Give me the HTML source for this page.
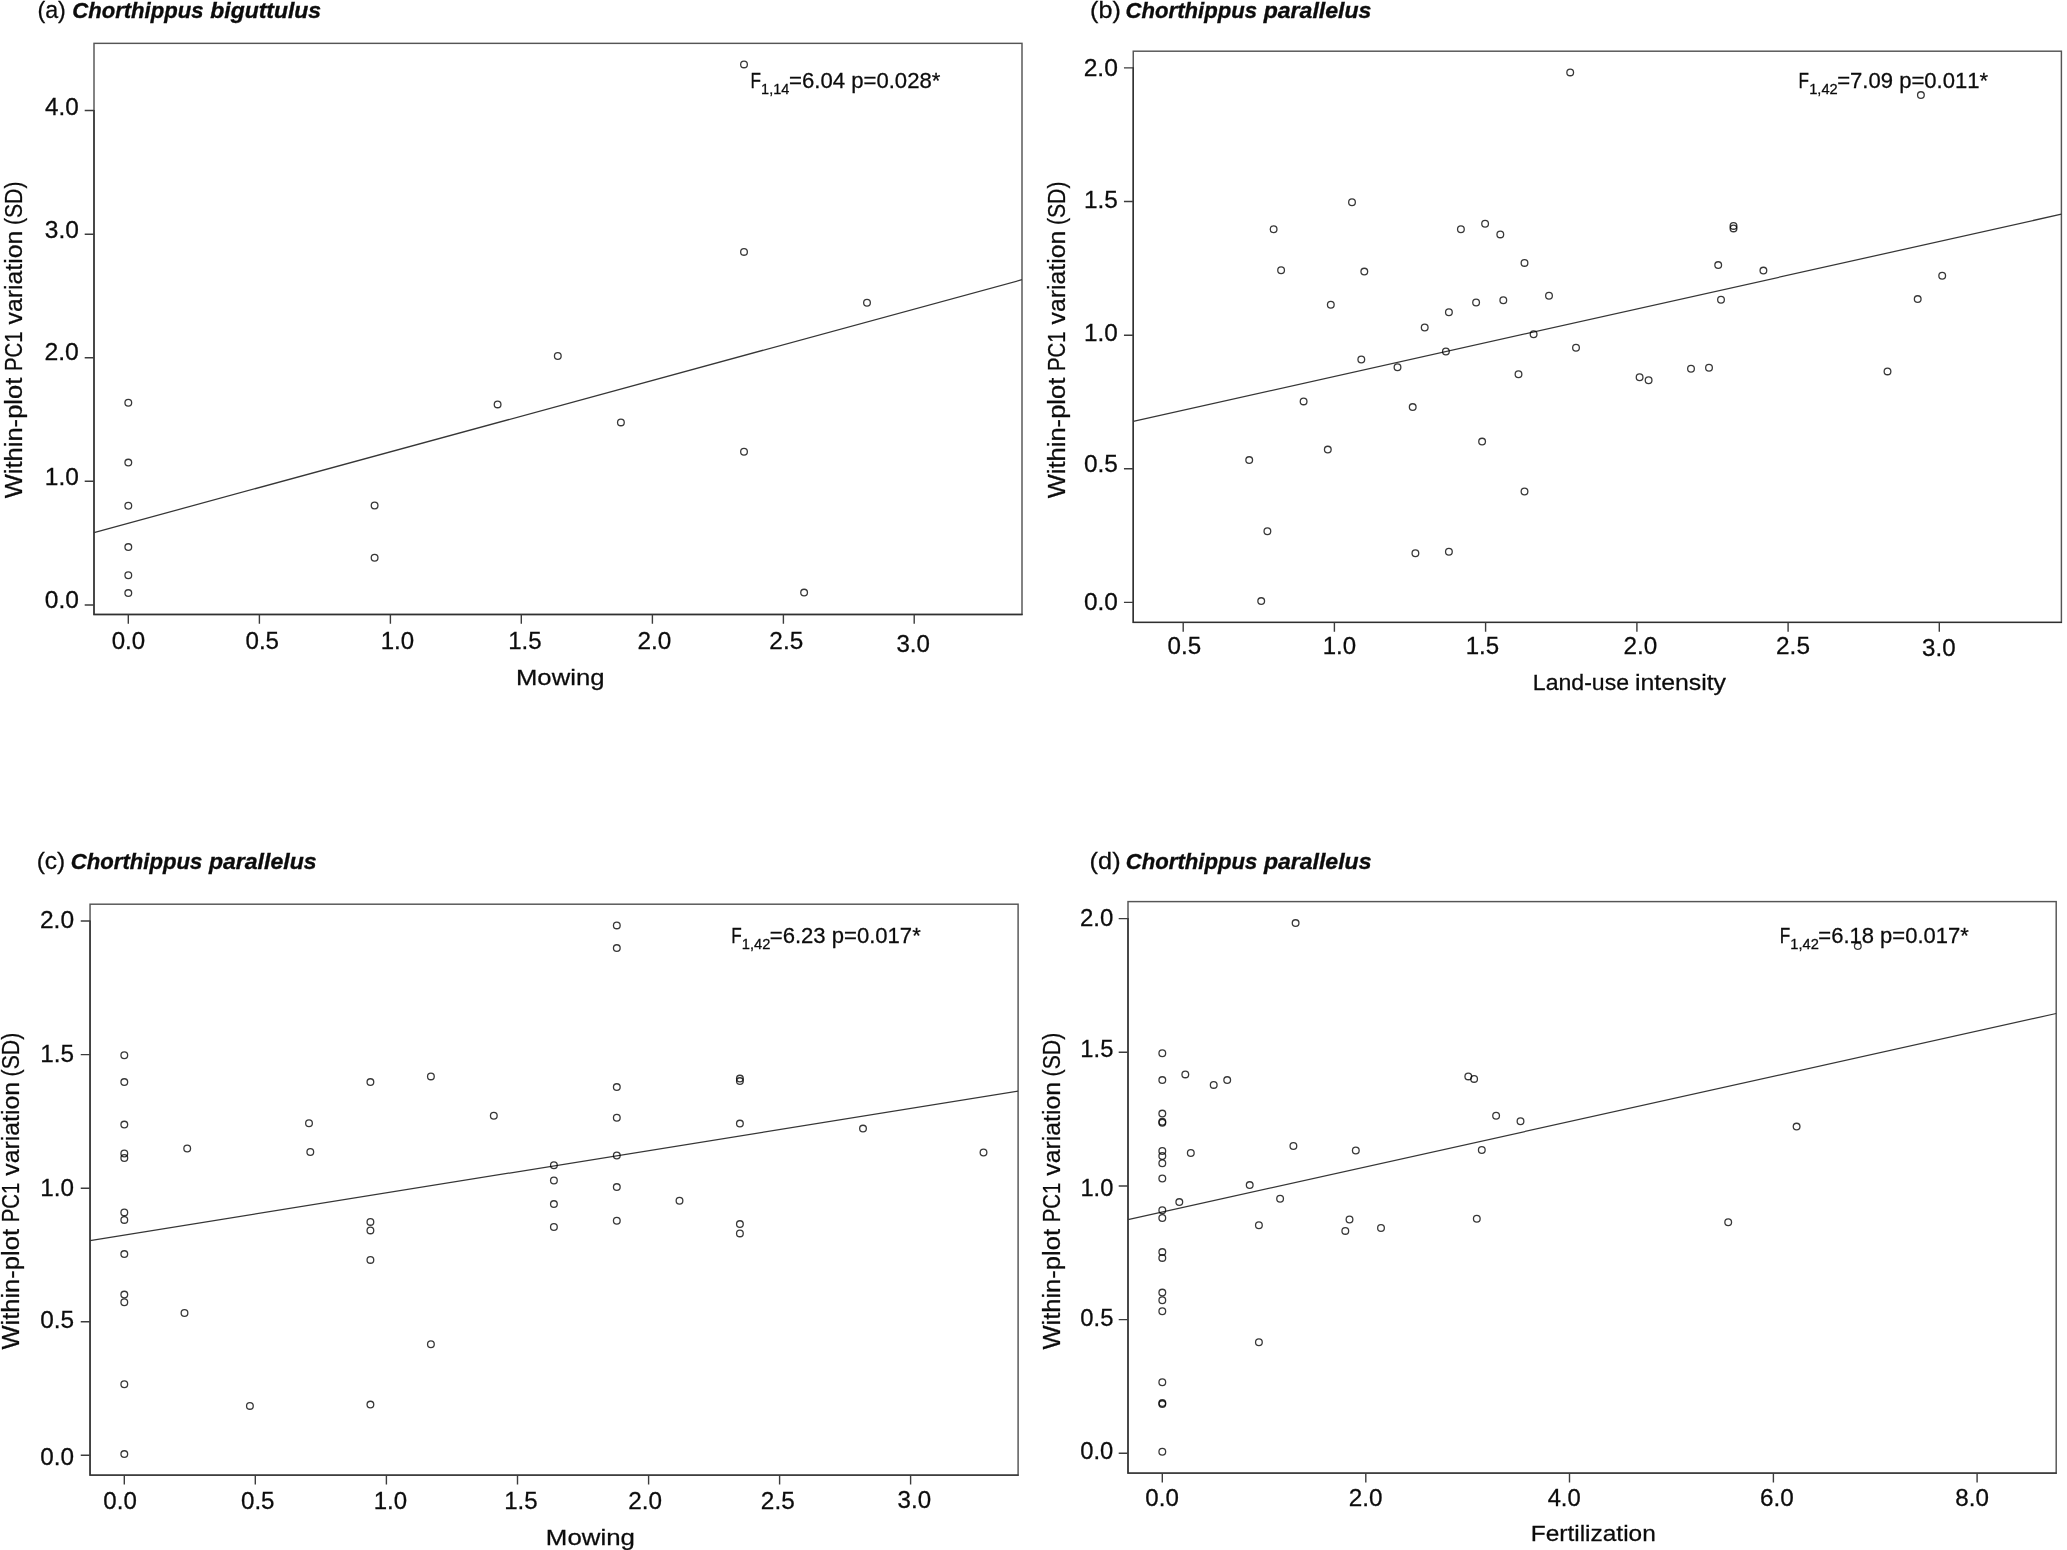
<!DOCTYPE html>
<html lang="en"><head><meta charset="utf-8"><title>Within-plot PC1 variation</title>
<style>
html,body{margin:0;padding:0;background:#fff;}
body{width:2067px;height:1550px;overflow:hidden;}
svg{display:block;will-change:transform;}
text{font-family:"Liberation Sans",sans-serif;font-kerning:none;fill:#0c0c0c;stroke:#0c0c0c;stroke-width:0.27px;}
.t{font-size:23.5px;}
.xl{font-size:22.9px;}
.yl{font-size:23.3px;}
.ti{font-size:23.7px;}
.tb{font-size:22.9px;font-weight:bold;font-style:italic;stroke:#0c0c0c;stroke-width:0.35px;}
.an{font-size:21.8px;}
.as{font-size:14.5px;}
.pt{fill:none;stroke:#000;stroke-opacity:0.78;stroke-width:1.3;}
.bx{fill:none;stroke:#555;stroke-width:1.45;}
.ax{fill:none;stroke:#303030;stroke-width:1.4;stroke-linejoin:miter;}
.tk{stroke:#3c3c3c;stroke-width:1.4;}
.ln{stroke:#363636;stroke-width:1.25;}
</style></head><body>
<svg width="2067" height="1550" viewBox="0 0 2067 1550">
<rect x="0" y="0" width="2067" height="1550" fill="#ffffff"/>
<g id="panel-a">
<text class="ti" x="37.46" y="18.2" textLength="28.38" lengthAdjust="spacingAndGlyphs">(a)</text>
<text class="tb" x="72.22" y="18.2" textLength="131.23" lengthAdjust="spacingAndGlyphs">Chorthippus</text>
<text class="tb" x="210.31" y="18.2" textLength="110.78" lengthAdjust="spacingAndGlyphs">biguttulus</text>
<rect class="bx" x="94" y="43.35" width="928" height="571.1"/>
<path class="ax" d="M94 109.9V614.45H1022.6"/>
<line class="ln" x1="94" y1="532.6" x2="1022" y2="279.7"/>
<path class="tk" fill="none" d="M84.7 605H94M84.7 481.3H94M84.7 357.7H94M84.7 234.2H94M84.7 110.5H94M128.3 614.45V623.85M259.4 614.45V623.85M390.4 614.45V623.85M521.3 614.45V623.85M652.4 614.45V623.85M783.4 614.45V623.85M914.2 614.45V623.85"/>
<text class="t" x="44.74" y="608.4" textLength="34.12" lengthAdjust="spacingAndGlyphs">0.0</text>
<text class="t" x="44.84" y="484.6" textLength="34.02" lengthAdjust="spacingAndGlyphs">1.0</text>
<text class="t" x="44.46" y="359.9" textLength="34.41" lengthAdjust="spacingAndGlyphs">2.0</text>
<text class="t" x="44.77" y="237.6" textLength="34.09" lengthAdjust="spacingAndGlyphs">3.0</text>
<text class="t" x="45.14" y="115.3" textLength="33.7" lengthAdjust="spacingAndGlyphs">4.0</text>
<text class="t" x="111.66" y="648.7" textLength="33.48" lengthAdjust="spacingAndGlyphs">0.0</text>
<text class="t" x="245.46" y="648.7" textLength="33.56" lengthAdjust="spacingAndGlyphs">0.5</text>
<text class="t" x="380.77" y="648.7" textLength="33.37" lengthAdjust="spacingAndGlyphs">1.0</text>
<text class="t" x="508.17" y="648.7" textLength="33.44" lengthAdjust="spacingAndGlyphs">1.5</text>
<text class="t" x="637.48" y="648.7" textLength="33.77" lengthAdjust="spacingAndGlyphs">2.0</text>
<text class="t" x="769.38" y="648.7" textLength="33.85" lengthAdjust="spacingAndGlyphs">2.5</text>
<text class="t" x="896.48" y="651.7" textLength="33.46" lengthAdjust="spacingAndGlyphs">3.0</text>
<text class="xl" x="515.99" y="684.9" textLength="88.46" lengthAdjust="spacingAndGlyphs">Mowing</text>
<g transform="translate(22.4 498.2) rotate(-90)">
<text class="yl" x="-0.11" y="0" textLength="120.6" lengthAdjust="spacingAndGlyphs">Within-plot</text>
<text class="yl" x="127.13" y="0" textLength="39.67" lengthAdjust="spacingAndGlyphs">PC1</text>
<text class="yl" x="173.72" y="0" textLength="93.8" lengthAdjust="spacingAndGlyphs">variation</text>
<text class="yl" x="273.08" y="0" textLength="43.63" lengthAdjust="spacingAndGlyphs">(SD)</text>
</g>
<text class="an" x="750.49" y="87.6" textLength="10.5" lengthAdjust="spacingAndGlyphs">F</text>
<text class="as" x="761.1" y="93.6" textLength="28.23" lengthAdjust="spacingAndGlyphs">1,14</text>
<text class="an" x="789.12" y="87.6" textLength="151.23" lengthAdjust="spacingAndGlyphs">=6.04 p=0.028*</text>
<circle class="pt" cx="128.3" cy="402.7" r="3.35"/>
<circle class="pt" cx="128.3" cy="462.6" r="3.35"/>
<circle class="pt" cx="128.3" cy="505.8" r="3.35"/>
<circle class="pt" cx="128.3" cy="547.1" r="3.35"/>
<circle class="pt" cx="128.3" cy="575.2" r="3.35"/>
<circle class="pt" cx="128.3" cy="593.1" r="3.35"/>
<circle class="pt" cx="374.6" cy="505.5" r="3.35"/>
<circle class="pt" cx="374.6" cy="557.7" r="3.35"/>
<circle class="pt" cx="497.6" cy="404.4" r="3.35"/>
<circle class="pt" cx="557.8" cy="356" r="3.35"/>
<circle class="pt" cx="620.9" cy="422.4" r="3.35"/>
<circle class="pt" cx="744" cy="64.4" r="3.35"/>
<circle class="pt" cx="744" cy="251.9" r="3.35"/>
<circle class="pt" cx="744" cy="451.8" r="3.35"/>
<circle class="pt" cx="804.1" cy="592.6" r="3.35"/>
<circle class="pt" cx="867" cy="302.8" r="3.35"/>
</g>
<g id="panel-b">
<text class="ti" x="1090.04" y="18.4" textLength="30.72" lengthAdjust="spacingAndGlyphs">(b)</text>
<text class="tb" x="1125.62" y="18.4" textLength="131.44" lengthAdjust="spacingAndGlyphs">Chorthippus</text>
<text class="tb" x="1263.71" y="18.4" textLength="107.68" lengthAdjust="spacingAndGlyphs">parallelus</text>
<rect class="bx" x="1133.25" y="51.2" width="928.15" height="571.2"/>
<path class="ax" d="M1133.25 67.3V622.4H2062"/>
<line class="ln" x1="1133.25" y1="421.4" x2="2061.4" y2="214.2"/>
<path class="tk" fill="none" d="M1123.95 602.4H1133.25M1123.95 468.8H1133.25M1123.95 335.2H1133.25M1123.95 201.5H1133.25M1123.95 67.9H1133.25M1183.2 622.4V631.8M1334.4 622.4V631.8M1485.6 622.4V631.8M1636.9 622.4V631.8M1788.1 622.4V631.8M1939.3 622.4V631.8"/>
<text class="t" x="1083.95" y="609.5" textLength="33.91" lengthAdjust="spacingAndGlyphs">0.0</text>
<text class="t" x="1083.95" y="472.2" textLength="33.98" lengthAdjust="spacingAndGlyphs">0.5</text>
<text class="t" x="1084.05" y="341.4" textLength="33.8" lengthAdjust="spacingAndGlyphs">1.0</text>
<text class="t" x="1084.04" y="208.1" textLength="33.88" lengthAdjust="spacingAndGlyphs">1.5</text>
<text class="t" x="1083.66" y="75.8" textLength="34.2" lengthAdjust="spacingAndGlyphs">2.0</text>
<text class="t" x="1167.56" y="654.4" textLength="33.56" lengthAdjust="spacingAndGlyphs">0.5</text>
<text class="t" x="1322.77" y="654.4" textLength="33.37" lengthAdjust="spacingAndGlyphs">1.0</text>
<text class="t" x="1465.67" y="654.4" textLength="33.44" lengthAdjust="spacingAndGlyphs">1.5</text>
<text class="t" x="1623.48" y="654.4" textLength="33.77" lengthAdjust="spacingAndGlyphs">2.0</text>
<text class="t" x="1776.08" y="654.4" textLength="33.85" lengthAdjust="spacingAndGlyphs">2.5</text>
<text class="t" x="1922.08" y="656.2" textLength="33.46" lengthAdjust="spacingAndGlyphs">3.0</text>
<text class="xl" x="1532.81" y="690" textLength="96.22" lengthAdjust="spacingAndGlyphs">Land-use</text>
<text class="xl" x="1634.94" y="690" textLength="91.11" lengthAdjust="spacingAndGlyphs">intensity</text>
<g transform="translate(1064.5 498.2) rotate(-90)">
<text class="yl" x="-0.11" y="0" textLength="120.6" lengthAdjust="spacingAndGlyphs">Within-plot</text>
<text class="yl" x="127.13" y="0" textLength="39.67" lengthAdjust="spacingAndGlyphs">PC1</text>
<text class="yl" x="173.72" y="0" textLength="93.8" lengthAdjust="spacingAndGlyphs">variation</text>
<text class="yl" x="273.08" y="0" textLength="43.63" lengthAdjust="spacingAndGlyphs">(SD)</text>
</g>
<text class="an" x="1798.59" y="87.6" textLength="10.5" lengthAdjust="spacingAndGlyphs">F</text>
<text class="as" x="1809.18" y="93.6" textLength="28.56" lengthAdjust="spacingAndGlyphs">1,42</text>
<text class="an" x="1837.22" y="87.6" textLength="150.92" lengthAdjust="spacingAndGlyphs">=7.09 p=0.011*</text>
<circle class="pt" cx="1273.6" cy="229.2" r="3.35"/>
<circle class="pt" cx="1281.1" cy="270.3" r="3.35"/>
<circle class="pt" cx="1352" cy="202.2" r="3.35"/>
<circle class="pt" cx="1364.3" cy="271.6" r="3.35"/>
<circle class="pt" cx="1330.8" cy="304.8" r="3.35"/>
<circle class="pt" cx="1460.9" cy="229.2" r="3.35"/>
<circle class="pt" cx="1485.1" cy="223.7" r="3.35"/>
<circle class="pt" cx="1500.3" cy="234.4" r="3.35"/>
<circle class="pt" cx="1524.5" cy="262.9" r="3.35"/>
<circle class="pt" cx="1476.1" cy="302.5" r="3.35"/>
<circle class="pt" cx="1503.3" cy="300.3" r="3.35"/>
<circle class="pt" cx="1549" cy="295.8" r="3.35"/>
<circle class="pt" cx="1448.9" cy="312.3" r="3.35"/>
<circle class="pt" cx="1424.7" cy="327.5" r="3.35"/>
<circle class="pt" cx="1533.6" cy="334.2" r="3.35"/>
<circle class="pt" cx="1445.9" cy="351.5" r="3.35"/>
<circle class="pt" cx="1361.3" cy="359.5" r="3.35"/>
<circle class="pt" cx="1397.5" cy="367.2" r="3.35"/>
<circle class="pt" cx="1518.5" cy="374.3" r="3.35"/>
<circle class="pt" cx="1570.2" cy="72.4" r="3.35"/>
<circle class="pt" cx="1920.9" cy="95.1" r="3.35"/>
<circle class="pt" cx="1733.5" cy="225.9" r="3.35"/>
<circle class="pt" cx="1733.5" cy="228.4" r="3.35"/>
<circle class="pt" cx="1718.2" cy="265.1" r="3.35"/>
<circle class="pt" cx="1763.4" cy="270.6" r="3.35"/>
<circle class="pt" cx="1942.2" cy="275.8" r="3.35"/>
<circle class="pt" cx="1721" cy="299.8" r="3.35"/>
<circle class="pt" cx="1917.7" cy="299.1" r="3.35"/>
<circle class="pt" cx="1576" cy="347.7" r="3.35"/>
<circle class="pt" cx="1639.6" cy="377.2" r="3.35"/>
<circle class="pt" cx="1648.6" cy="380.2" r="3.35"/>
<circle class="pt" cx="1691" cy="368.7" r="3.35"/>
<circle class="pt" cx="1709" cy="367.7" r="3.35"/>
<circle class="pt" cx="1887.5" cy="371.4" r="3.35"/>
<circle class="pt" cx="1303.6" cy="401.4" r="3.35"/>
<circle class="pt" cx="1412.7" cy="407.1" r="3.35"/>
<circle class="pt" cx="1482.1" cy="441.6" r="3.35"/>
<circle class="pt" cx="1327.8" cy="449.6" r="3.35"/>
<circle class="pt" cx="1249.2" cy="460.1" r="3.35"/>
<circle class="pt" cx="1524.5" cy="491.5" r="3.35"/>
<circle class="pt" cx="1267.4" cy="531.2" r="3.35"/>
<circle class="pt" cx="1415.4" cy="553.2" r="3.35"/>
<circle class="pt" cx="1448.9" cy="551.7" r="3.35"/>
<circle class="pt" cx="1261.2" cy="601.1" r="3.35"/>
</g>
<g id="panel-c">
<text class="ti" x="36.68" y="869.3" textLength="28.54" lengthAdjust="spacingAndGlyphs">(c)</text>
<text class="tb" x="70.82" y="869.3" textLength="131.44" lengthAdjust="spacingAndGlyphs">Chorthippus</text>
<text class="tb" x="208.91" y="869.3" textLength="107.68" lengthAdjust="spacingAndGlyphs">parallelus</text>
<rect class="bx" x="90.05" y="904.2" width="928.05" height="570.95"/>
<path class="ax" d="M90.05 920.4V1475.15H1018.7"/>
<line class="ln" x1="90.05" y1="1240.6" x2="1018.1" y2="1091.1"/>
<path class="tk" fill="none" d="M80.75 1455.3H90.05M80.75 1321.7H90.05M80.75 1188.2H90.05M80.75 1054.6H90.05M80.75 921H90.05M124.3 1475.15V1484.55M255.3 1475.15V1484.55M386.4 1475.15V1484.55M517.5 1475.15V1484.55M648.6 1475.15V1484.55M779.6 1475.15V1484.55M910.6 1475.15V1484.55"/>
<text class="t" x="40.25" y="1464.9" textLength="33.8" lengthAdjust="spacingAndGlyphs">0.0</text>
<text class="t" x="40.25" y="1327.7" textLength="33.88" lengthAdjust="spacingAndGlyphs">0.5</text>
<text class="t" x="40.35" y="1195.9" textLength="33.69" lengthAdjust="spacingAndGlyphs">1.0</text>
<text class="t" x="40.35" y="1061.6" textLength="33.77" lengthAdjust="spacingAndGlyphs">1.5</text>
<text class="t" x="39.97" y="928.3" textLength="34.09" lengthAdjust="spacingAndGlyphs">2.0</text>
<text class="t" x="103.36" y="1509.1" textLength="33.48" lengthAdjust="spacingAndGlyphs">0.0</text>
<text class="t" x="240.96" y="1509.1" textLength="33.56" lengthAdjust="spacingAndGlyphs">0.5</text>
<text class="t" x="373.67" y="1509.1" textLength="33.37" lengthAdjust="spacingAndGlyphs">1.0</text>
<text class="t" x="504.17" y="1509.1" textLength="33.44" lengthAdjust="spacingAndGlyphs">1.5</text>
<text class="t" x="628.18" y="1509.1" textLength="33.77" lengthAdjust="spacingAndGlyphs">2.0</text>
<text class="t" x="760.88" y="1509.1" textLength="33.85" lengthAdjust="spacingAndGlyphs">2.5</text>
<text class="t" x="897.58" y="1508.4" textLength="33.46" lengthAdjust="spacingAndGlyphs">3.0</text>
<text class="xl" x="545.88" y="1545.2" textLength="89.09" lengthAdjust="spacingAndGlyphs">Mowing</text>
<g transform="translate(18.7 1349.5) rotate(-90)">
<text class="yl" x="-0.11" y="0" textLength="120.6" lengthAdjust="spacingAndGlyphs">Within-plot</text>
<text class="yl" x="127.13" y="0" textLength="39.67" lengthAdjust="spacingAndGlyphs">PC1</text>
<text class="yl" x="173.72" y="0" textLength="93.8" lengthAdjust="spacingAndGlyphs">variation</text>
<text class="yl" x="273.08" y="0" textLength="43.63" lengthAdjust="spacingAndGlyphs">(SD)</text>
</g>
<text class="an" x="731.19" y="942.5" textLength="10.5" lengthAdjust="spacingAndGlyphs">F</text>
<text class="as" x="741.78" y="948.5" textLength="28.56" lengthAdjust="spacingAndGlyphs">1,42</text>
<text class="an" x="769.82" y="942.5" textLength="150.92" lengthAdjust="spacingAndGlyphs">=6.23 p=0.017*</text>
<circle class="pt" cx="124.3" cy="1055.2" r="3.35"/>
<circle class="pt" cx="124.3" cy="1082.1" r="3.35"/>
<circle class="pt" cx="124.3" cy="1124.6" r="3.35"/>
<circle class="pt" cx="124.3" cy="1153.5" r="3.35"/>
<circle class="pt" cx="124.3" cy="1158" r="3.35"/>
<circle class="pt" cx="124.3" cy="1212.4" r="3.35"/>
<circle class="pt" cx="124.3" cy="1219.9" r="3.35"/>
<circle class="pt" cx="124.3" cy="1254.1" r="3.35"/>
<circle class="pt" cx="124.3" cy="1294.6" r="3.35"/>
<circle class="pt" cx="124.3" cy="1302.3" r="3.35"/>
<circle class="pt" cx="124.3" cy="1384.2" r="3.35"/>
<circle class="pt" cx="124.3" cy="1454.1" r="3.35"/>
<circle class="pt" cx="187.2" cy="1148.5" r="3.35"/>
<circle class="pt" cx="184.5" cy="1313" r="3.35"/>
<circle class="pt" cx="249.9" cy="1405.9" r="3.35"/>
<circle class="pt" cx="309" cy="1123.3" r="3.35"/>
<circle class="pt" cx="310.3" cy="1152" r="3.35"/>
<circle class="pt" cx="370.4" cy="1082.1" r="3.35"/>
<circle class="pt" cx="370.4" cy="1221.9" r="3.35"/>
<circle class="pt" cx="370.4" cy="1230.4" r="3.35"/>
<circle class="pt" cx="370.4" cy="1259.9" r="3.35"/>
<circle class="pt" cx="370.4" cy="1404.6" r="3.35"/>
<circle class="pt" cx="430.9" cy="1076.4" r="3.35"/>
<circle class="pt" cx="430.9" cy="1344.2" r="3.35"/>
<circle class="pt" cx="493.8" cy="1115.8" r="3.35"/>
<circle class="pt" cx="553.9" cy="1165.2" r="3.35"/>
<circle class="pt" cx="553.9" cy="1180.5" r="3.35"/>
<circle class="pt" cx="553.9" cy="1204.1" r="3.35"/>
<circle class="pt" cx="553.9" cy="1227" r="3.35"/>
<circle class="pt" cx="616.8" cy="925.4" r="3.35"/>
<circle class="pt" cx="616.8" cy="948.1" r="3.35"/>
<circle class="pt" cx="616.8" cy="1087.1" r="3.35"/>
<circle class="pt" cx="616.8" cy="1117.8" r="3.35"/>
<circle class="pt" cx="616.8" cy="1155.5" r="3.35"/>
<circle class="pt" cx="616.8" cy="1187.1" r="3.35"/>
<circle class="pt" cx="616.8" cy="1220.8" r="3.35"/>
<circle class="pt" cx="679.5" cy="1200.7" r="3.35"/>
<circle class="pt" cx="739.9" cy="1078.6" r="3.35"/>
<circle class="pt" cx="739.9" cy="1081.1" r="3.35"/>
<circle class="pt" cx="739.9" cy="1123.6" r="3.35"/>
<circle class="pt" cx="739.9" cy="1224.1" r="3.35"/>
<circle class="pt" cx="739.9" cy="1233.4" r="3.35"/>
<circle class="pt" cx="863" cy="1128.6" r="3.35"/>
<circle class="pt" cx="983.5" cy="1152.5" r="3.35"/>
</g>
<g id="panel-d">
<text class="ti" x="1089.63" y="868.5" textLength="30.94" lengthAdjust="spacingAndGlyphs">(d)</text>
<text class="tb" x="1125.82" y="868.5" textLength="131.44" lengthAdjust="spacingAndGlyphs">Chorthippus</text>
<text class="tb" x="1263.91" y="868.5" textLength="107.58" lengthAdjust="spacingAndGlyphs">parallelus</text>
<rect class="bx" x="1128" y="901.6" width="928.2" height="571.5"/>
<path class="ax" d="M1128 918V1473.1H2056.8"/>
<line class="ln" x1="1128" y1="1219.7" x2="2056.2" y2="1013.5"/>
<path class="tk" fill="none" d="M1118.7 1453.2H1128M1118.7 1319.6H1128M1118.7 1186H1128M1118.7 1052.2H1128M1118.7 918.6H1128M1162.3 1473.1V1482.5M1365.8 1473.1V1482.5M1569.5 1473.1V1482.5M1773.4 1473.1V1482.5M1977.1 1473.1V1482.5"/>
<text class="t" x="1080.27" y="1459.2" textLength="33.06" lengthAdjust="spacingAndGlyphs">0.0</text>
<text class="t" x="1080.27" y="1325.7" textLength="33.13" lengthAdjust="spacingAndGlyphs">0.5</text>
<text class="t" x="1080.4" y="1196" textLength="32.93" lengthAdjust="spacingAndGlyphs">1.0</text>
<text class="t" x="1080.39" y="1057.1" textLength="33.01" lengthAdjust="spacingAndGlyphs">1.5</text>
<text class="t" x="1079.99" y="926" textLength="33.34" lengthAdjust="spacingAndGlyphs">2.0</text>
<text class="t" x="1145.36" y="1506" textLength="33.48" lengthAdjust="spacingAndGlyphs">0.0</text>
<text class="t" x="1348.78" y="1506" textLength="33.77" lengthAdjust="spacingAndGlyphs">2.0</text>
<text class="t" x="1547.65" y="1505.7" textLength="33.08" lengthAdjust="spacingAndGlyphs">4.0</text>
<text class="t" x="1759.97" y="1505.9" textLength="33.78" lengthAdjust="spacingAndGlyphs">6.0</text>
<text class="t" x="1955.35" y="1505.9" textLength="33.59" lengthAdjust="spacingAndGlyphs">8.0</text>
<text class="xl" x="1530.79" y="1541" textLength="124.99" lengthAdjust="spacingAndGlyphs">Fertilization</text>
<g transform="translate(1060 1349.5) rotate(-90)">
<text class="yl" x="-0.11" y="0" textLength="120.6" lengthAdjust="spacingAndGlyphs">Within-plot</text>
<text class="yl" x="127.13" y="0" textLength="39.67" lengthAdjust="spacingAndGlyphs">PC1</text>
<text class="yl" x="173.72" y="0" textLength="93.8" lengthAdjust="spacingAndGlyphs">variation</text>
<text class="yl" x="273.08" y="0" textLength="43.63" lengthAdjust="spacingAndGlyphs">(SD)</text>
</g>
<text class="an" x="1779.69" y="942.5" textLength="10.5" lengthAdjust="spacingAndGlyphs">F</text>
<text class="as" x="1790.28" y="948.5" textLength="28.56" lengthAdjust="spacingAndGlyphs">1,42</text>
<text class="an" x="1818.33" y="942.5" textLength="150.42" lengthAdjust="spacingAndGlyphs">=6.18 p=0.017*</text>
<circle class="pt" cx="1162.3" cy="1053.2" r="3.35"/>
<circle class="pt" cx="1162.3" cy="1080.1" r="3.35"/>
<circle class="pt" cx="1162.3" cy="1113.6" r="3.35"/>
<circle class="pt" cx="1162.3" cy="1121.8" r="3.35"/>
<circle class="pt" cx="1162.3" cy="1122.7" r="3.35"/>
<circle class="pt" cx="1162.3" cy="1151" r="3.35"/>
<circle class="pt" cx="1162.3" cy="1156" r="3.35"/>
<circle class="pt" cx="1162.3" cy="1163.3" r="3.35"/>
<circle class="pt" cx="1162.3" cy="1178.5" r="3.35"/>
<circle class="pt" cx="1162.3" cy="1210.2" r="3.35"/>
<circle class="pt" cx="1162.3" cy="1218" r="3.35"/>
<circle class="pt" cx="1162.3" cy="1252.1" r="3.35"/>
<circle class="pt" cx="1162.3" cy="1257.9" r="3.35"/>
<circle class="pt" cx="1162.3" cy="1292.6" r="3.35"/>
<circle class="pt" cx="1162.3" cy="1300.3" r="3.35"/>
<circle class="pt" cx="1162.3" cy="1311.3" r="3.35"/>
<circle class="pt" cx="1162.3" cy="1382.2" r="3.35"/>
<circle class="pt" cx="1162.3" cy="1403.1" r="3.35"/>
<circle class="pt" cx="1162.3" cy="1404.1" r="3.35"/>
<circle class="pt" cx="1162.3" cy="1451.8" r="3.35"/>
<circle class="pt" cx="1185.3" cy="1074.4" r="3.35"/>
<circle class="pt" cx="1213.7" cy="1084.9" r="3.35"/>
<circle class="pt" cx="1227.2" cy="1080.1" r="3.35"/>
<circle class="pt" cx="1190.8" cy="1153" r="3.35"/>
<circle class="pt" cx="1179.3" cy="1202.1" r="3.35"/>
<circle class="pt" cx="1295.6" cy="923.1" r="3.35"/>
<circle class="pt" cx="1293.4" cy="1146" r="3.35"/>
<circle class="pt" cx="1249.7" cy="1185.1" r="3.35"/>
<circle class="pt" cx="1280.1" cy="1198.8" r="3.35"/>
<circle class="pt" cx="1258.9" cy="1225.2" r="3.35"/>
<circle class="pt" cx="1258.9" cy="1342.2" r="3.35"/>
<circle class="pt" cx="1355.8" cy="1150.5" r="3.35"/>
<circle class="pt" cx="1349.5" cy="1219.5" r="3.35"/>
<circle class="pt" cx="1345.3" cy="1230.9" r="3.35"/>
<circle class="pt" cx="1381" cy="1228" r="3.35"/>
<circle class="pt" cx="1468.3" cy="1076.4" r="3.35"/>
<circle class="pt" cx="1474.1" cy="1078.9" r="3.35"/>
<circle class="pt" cx="1496.1" cy="1115.8" r="3.35"/>
<circle class="pt" cx="1520.5" cy="1121.3" r="3.35"/>
<circle class="pt" cx="1481.8" cy="1150" r="3.35"/>
<circle class="pt" cx="1476.8" cy="1218.7" r="3.35"/>
<circle class="pt" cx="1857.8" cy="946.1" r="3.35"/>
<circle class="pt" cx="1796.6" cy="1126.6" r="3.35"/>
<circle class="pt" cx="1728.2" cy="1222.3" r="3.35"/>
</g>
</svg></body></html>
